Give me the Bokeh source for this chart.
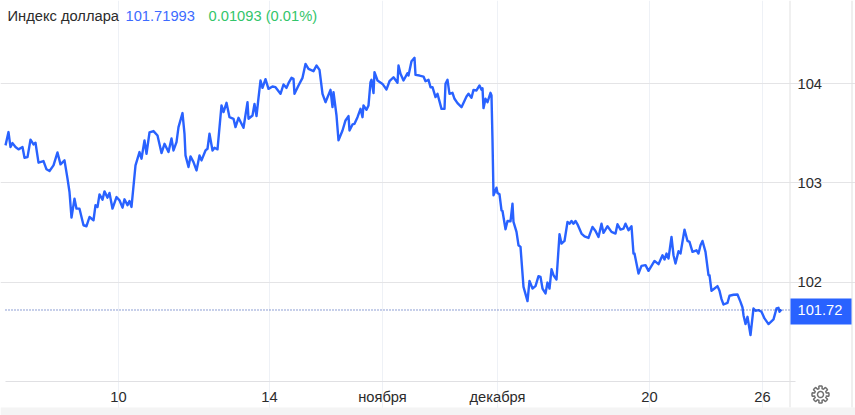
import numpy as np
from bokeh.plotting import figure
from bokeh.models import Range1d, FixedTicker, Grid
from bokeh.core.properties import value
from bokeh.embed import file_html
from bokeh.resources import INLINE

# time index of each reading (chart bars) and the index value read at it
bars = [0,3,5,7,10,13,17,19,22,25,28,30,33,38,41,44,48,52,55,59,62,64,66,69,71,74,78,81,84,88,90,92,94,97,99,102,104,107,111,114,117,119,122,124,126,130,134,136,139,141,144,148,152,156,159,163,166,168,171,173,177,179,180,183,185,188,191,194,196,200,202,204,207,209,212,216,218,221,224,228,230,233,238,242,243,247,249,251,253,255,257,260,263,267,270,275,278,281,283,286,288,289,293,297,300,303,308,311,314,317,320,325,327,328,331,333,
        337,340,343,344,347,349,352,355,357,358,361,363,365,366,368,369,372,377,381,384,388,392,393,395,398,402,403,406,409,410,414,418,420,423,425,427,430,432,436,439,440,442,444,447,449,452,456,461,463,466,468,471,474,476,477,478,480,482,485,486,487,488,491,492,494,496,497,500,502,505,507,508,511,513,515,518,522,524,527,530,533,535,537,540,542,544,546,548,551,554,
        556,559,562,564,566,568,570,572,576,579,583,587,590,593,596,598,602,606,610,612,615,618,620,623,626,628,629,633,636,640,643,649,653,657,659,661,663,666,668,670,673,675,679,682,684,687,691,693,695,697,700,703,704,706,709,712,714,716,718,722,724,728,732,735,737,738,740,742,745,748,750,753,756,759,763,768,771,773,774,776]
index_values = [103.377,103.511,103.360,103.400,103.360,103.337,103.360,103.253,103.259,103.434,103.387,103.404,103.203,103.219,103.136,103.119,103.176,103.306,103.186,103.226,103.042,102.908,102.650,102.841,102.740,102.740,102.573,102.563,102.656,102.623,102.774,102.757,102.884,102.831,102.914,102.851,102.898,102.740,102.857,102.824,102.750,102.834,102.774,102.817,102.757,103.176,103.310,103.243,103.427,103.293,103.507,103.521,103.477,103.300,103.393,103.310,103.447,103.326,103.410,103.561,103.702,103.494,103.276,103.159,103.266,103.209,103.125,103.276,103.226,103.326,103.343,103.494,103.326,103.353,103.337,103.779,103.712,103.806,103.661,103.645,103.561,103.655,103.554,103.812,103.645,103.678,103.795,103.672,103.856,104.030,103.956,104.043,103.946,103.970,103.963,103.896,103.990,103.956,104.003,104.057,104.047,103.896,103.980,104.057,104.197,104.147,104.124,104.181,104.137,103.896,103.812,103.936,103.762,103.913,103.678,103.427,
                103.527,103.628,103.672,103.527,103.588,103.594,103.661,103.745,103.661,103.779,103.735,103.779,104.013,104.037,103.903,104.114,104.030,103.996,103.940,104.023,104.063,104.007,104.181,104.097,104.030,104.104,104.080,104.224,104.258,104.087,104.080,104.070,104.023,104.037,103.963,103.963,103.863,103.896,103.745,103.745,103.996,104.037,103.896,103.906,103.846,103.802,103.762,103.869,103.896,103.856,103.936,103.930,103.980,103.936,103.953,103.752,103.846,103.812,103.906,103.879,103.427,102.874,102.951,102.898,102.884,102.723,102.717,102.533,102.616,102.613,102.790,102.606,102.506,102.372,102.355,101.953,101.809,102.013,101.936,101.960,102.060,102.053,101.936,101.886,101.996,101.936,102.130,102.070,102.027,102.482,
                102.388,102.415,102.606,102.589,102.616,102.589,102.616,102.583,102.489,102.462,102.445,102.556,102.516,102.455,102.589,102.496,102.563,102.506,102.489,102.583,102.529,102.539,102.589,102.522,102.563,102.288,102.288,102.087,102.164,102.171,102.114,102.214,102.181,102.271,102.228,102.288,102.238,102.455,102.271,102.188,102.311,102.288,102.529,102.415,102.405,102.305,102.321,102.288,102.372,102.415,102.305,102.070,102.070,101.913,101.936,101.960,101.913,101.829,101.775,101.792,101.863,101.873,101.876,101.802,101.745,101.668,101.578,101.651,101.467,101.735,101.712,101.718,101.702,101.635,101.578,101.625,101.735,101.742,101.702,101.725]

x_tick_bars = [113, 264, 377, 492, 644, 757]
x_tick_labels = ["10", "14", "ноября", "декабря", "20", "26"]
y_ticks = [102, 103, 104]
y_tick_labels = ["104", "103", "102"]
last_value = 101.71993
title_text = "Индекс доллара"
last_text = "101.71993"
change_text = "0.01093 (0.01%)"
tag_text = "101.72"

FONT = value("Liberation Sans")
FS = value("14.7px")
BLUE = "#2962ff"
INK = "#2b2b2b"
W, H = 855, 415
L, R, T, B = 5, 789, 27, 381
PX_PER_UNIT = (B - 83) / 3.0          # 104 sits at pixel row 83, 101 at row 381

def X(px):                             # window pixel column -> bar number
    return np.asarray(px, dtype=float) - L

def Y(py):                             # window pixel row -> index value
    return 101.0 + (B - np.asarray(py, dtype=float)) / PX_PER_UNIT

p = figure(width=W, height=H, output_backend="svg", toolbar_location=None,
           x_range=Range1d(float(X(0)), float(X(W))), y_range=Range1d(float(Y(H)), float(Y(0))),
           min_border=0, x_axis_location=None, y_axis_location=None,
           border_fill_color="white", background_fill_color="white")
p.outline_line_color = None
p.grid.visible = False
p.add_layout(Grid(dimension=0, ticker=FixedTicker(ticks=x_tick_bars), bounds=(float(Y(B)), float(Y(T))),
                  grid_line_color="#eef1f6"))
p.add_layout(Grid(dimension=1, ticker=FixedTicker(ticks=y_ticks), bounds=(float(X(L)), float(X(795))),
                  grid_line_color="#e4e4e6"))

def rect(x0, x1, y0, y1, color):
    p.quad(left=[float(X(x0))], right=[float(X(x1))], top=[float(Y(y0))], bottom=[float(Y(y1))],
           fill_color=color, line_color=None)

rect(L, 795, B - 0.5, B + 0.5, "#e0e0e3")
rect(R, R + 1, 0, 407, "#e2e2e2")
rect(851, 852, 0, 407, "#e0e0e0")
rect(0, W, 407, H, "#f4f4f4")

p.line(bars, index_values, line_color=BLUE, line_width=2.4, line_join="round")
p.segment(x0=[float(X(L))], x1=[float(X(R))], y0=[last_value], y1=[last_value],
          line_color="#1f3fa8", line_width=1, line_dash="1 2")

rect(R + 1, 851, 298, 324, BLUE)

def txt(xs, ys, texts, color, align="left"):
    p.text(x=list(xs), y=list(ys), text=list(texts), text_color=color, text_font=FONT, text_font_size=FS,
           text_baseline="middle", text_align=align)

txt(x_tick_bars, [float(Y(396))] * 6, x_tick_labels, INK, "center")
txt([float(X(797))] * 3, y_ticks, y_tick_labels[::-1], INK)
txt([float(X(797))], [last_value], [tag_text], "white")
txt([float(X(7))], [float(Y(15))], [title_text], INK)
txt([float(X(125))], [float(Y(15))], [last_text], "#3d6bff")
txt([float(X(208))], [float(Y(15))], [change_text], "#33c56a")

# settings gear
cx, cy = 820, 394
ang = np.linspace(0, 2 * np.pi, 96, endpoint=False)
rad = 8.5 - 2.5 * (np.cos(ang * 8) < -0.2)
p.patch(X(cx + rad * np.cos(ang)), Y(cy + rad * np.sin(ang)), fill_alpha=0, line_color="#6f6f6f", line_width=1.5)
ang2 = np.linspace(0, 2 * np.pi, 24, endpoint=False)
p.patch(X(cx + 3 * np.cos(ang2)), Y(cy + 3 * np.sin(ang2)), fill_alpha=0, line_color="#6f6f6f", line_width=1.5)

open("out.html", "w").write(file_html(p, INLINE))
